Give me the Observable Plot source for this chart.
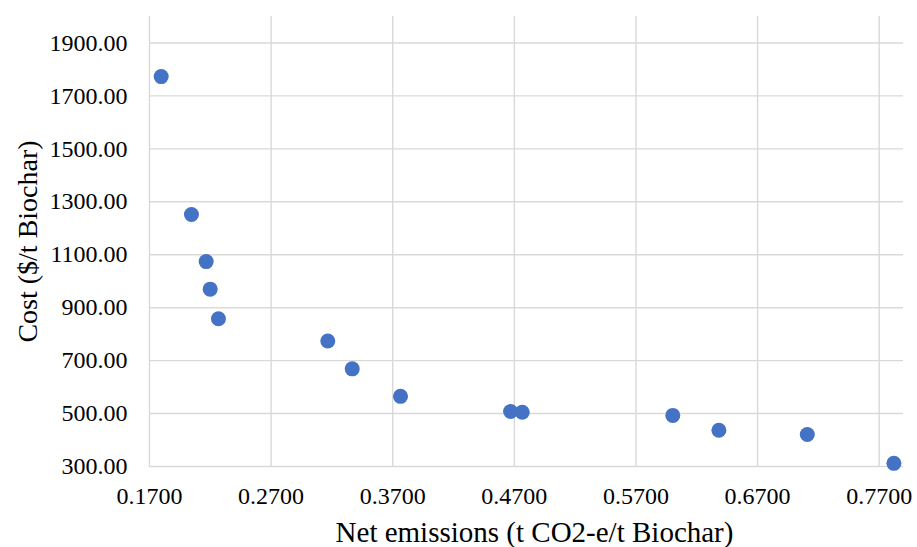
<!DOCTYPE html>
<html>
<head>
<meta charset="utf-8">
<script src="https://cdn.jsdelivr.net/npm/d3@7"></script>
<script src="https://cdn.jsdelivr.net/npm/@observablehq/plot@0.6"></script>
<style>
  html, body { margin: 0; padding: 0; background: #fff; }
  #chart svg { display: block; }
  #chart svg text { font-family: 'Liberation Serif', 'Times New Roman', serif !important; fill: #000; }
</style>
</head>
<body>
<div id="chart"></div>
<script>
const netEmissions = [0.1796, 0.2045, 0.2166, 0.2199, 0.2267, 0.3166, 0.3367, 0.3764, 0.4669, 0.4765, 0.6003, 0.6382, 0.7109, 0.7821];
const cost = [1773, 1252, 1074, 970, 858, 774, 669, 565, 508, 505, 493, 437, 421, 312];
const xTicks = [0.17, 0.27, 0.37, 0.47, 0.57, 0.67, 0.77];
const yTicks = [300, 500, 700, 900, 1100, 1300, 1500, 1700, 1900];
const xTitle = "Net emissions (t CO2-e/t Biochar)";
const yTitle = "Cost ($/t Biochar)";

const data = netEmissions.map((x, i) => ({x, y: cost[i]}));
const grid = "#d9d9d9";
const fontFam = "'Liberation Serif', 'Times New Roman', serif";

const chart = Plot.plot({
  width: 917,
  height: 547,
  marginLeft: 149,
  marginRight: 14,
  marginTop: 16,
  marginBottom: 81,
  style: {fontFamily: fontFam, fontSize: "24px", color: "#000", background: "#fff"},
  x: {domain: [0.17, 0.79], label: null},
  y: {domain: [300, 2000], label: null},
  marks: [
    Plot.ruleX(xTicks, {stroke: grid, strokeWidth: 1.4}),
    Plot.ruleY(yTicks, {stroke: grid, strokeWidth: 1.4}),
    Plot.dot(data, {x: "x", y: "y", r: 7.5, fill: "#4472C4", stroke: "none"}),
    Plot.axisX({ticks: xTicks, tickFormat: d3.format(".4f"), tickSize: 0, tickPadding: 20, label: null, fontSize: 24}),
    Plot.axisY({ticks: yTicks, tickFormat: d3.format(".2f"), tickSize: 0, tickPadding: 22, label: null, fontSize: 24}),
    Plot.text([xTitle], {frameAnchor: "bottom", textAnchor: "middle", lineAnchor: "bottom", dx: 8, dy: 75, fontSize: 29, fill: "#000"}),
    Plot.text([yTitle], {frameAnchor: "left", textAnchor: "middle", lineAnchor: "bottom", dx: -113, rotate: -90, fontSize: 28, fill: "#000"})
  ]
});
document.getElementById("chart").appendChild(chart);
</script>
</body>
</html>
